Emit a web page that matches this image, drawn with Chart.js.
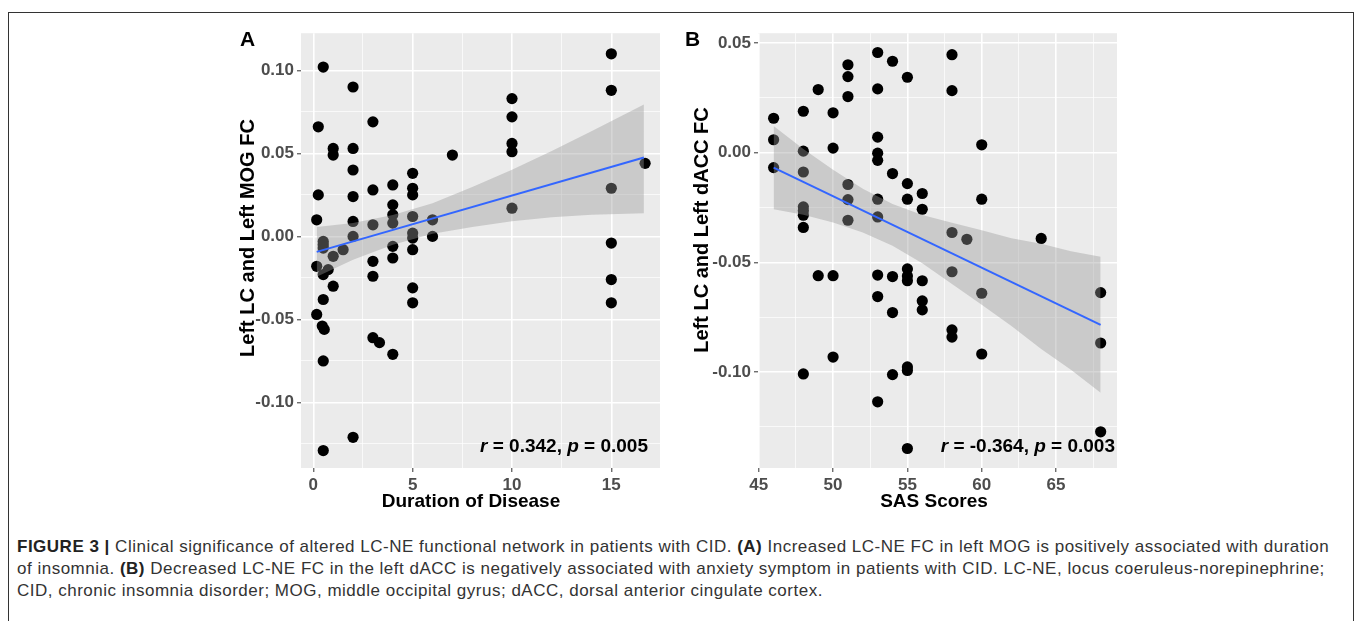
<!DOCTYPE html>
<html>
<head>
<meta charset="utf-8">
<title>Figure 3</title>
<script src="https://cdn.jsdelivr.net/npm/chart.js@4.4.1/dist/chart.umd.min.js"></script>
<style>
  html, body { margin: 0; padding: 0; background: #fff; }
  body { width: 1357px; height: 621px; position: relative; overflow: hidden; font-family: "Liberation Sans", Arial, sans-serif; }
  #frame { position: absolute; left: 8px; top: 12px; width: 1346px; height: 640px; border: 1.5px solid #333; box-sizing: border-box; }
  canvas { position: absolute; }
  #chartA { left: 230px; top: 20px; }
  #chartB { left: 680px; top: 20px; }
  .panel { position: absolute; font: bold 21px "Liberation Sans", Arial, sans-serif; color: #000; }
  .cap { position: absolute; left: 17px; white-space: nowrap; color: #333; font-size: 17px; letter-spacing: 0.5px; font-family: "Liberation Sans", Arial, sans-serif; }
  .cap b { color: #222; }
</style>
</head>
<body>
<div id="frame"></div>
<canvas id="chartA" width="440" height="500"></canvas>
<canvas id="chartB" width="450" height="500"></canvas>
<div class="panel" style="left:240px; top:27px;">A</div>
<div class="panel" style="left:685px; top:27px;">B</div>
<div class="cap" style="top:537px;"><b>FIGURE 3 |</b> Clinical significance of altered LC-NE functional network in patients with CID. <b>(A)</b> Increased LC-NE FC in left MOG is positively associated with duration</div>
<div class="cap" style="top:559px;">of insomnia. <b>(B)</b> Decreased LC-NE FC in the left dACC is negatively associated with anxiety symptom in patients with CID. LC-NE, locus coeruleus-norepinephrine;</div>
<div class="cap" style="top:581px;">CID, chronic insomnia disorder; MOG, middle occipital gyrus; dACC, dorsal anterior cingulate cortex.</div>

<script>
// Panel A: duration of disease vs left LC - left MOG FC
const durationYears = [0.5, 2, 0.25, 3, 1, 1, 2, 2, 0.25, 2, 3, 4, 5, 5, 5, 7, 10, 10, 10, 10, 10,
  15, 15, 15, 15, 16.7, 15, 15, 0.17, 2, 2, 3, 4, 4, 4, 5, 5, 5, 5, 6, 6, 0.5, 0.5, 0.5, 1.5, 1,
  3, 4, 4, 0.17, 0.75, 0.5, 1, 3, 5, 5, 0.5, 0.17, 0.45, 0.55, 0.5, 3, 3.33, 4, 2, 0.5];
const mogFC = [0.102, 0.090, 0.066, 0.069, 0.053, 0.049, 0.053, 0.040, 0.025, 0.024, 0.028, 0.031,
  0.038, 0.029, 0.025, 0.049, 0.083, 0.072, 0.056, 0.051, 0.017, 0.110, 0.088, 0.029, -0.004, 0.044,
  -0.026, -0.040, 0.010, 0.009, 0.000, 0.007, 0.019, 0.013, 0.008, 0.012, 0.002, -0.001, -0.008,
  0.010, 0.000, -0.003, -0.005, -0.007, -0.008, -0.012, -0.015, -0.013, -0.006, -0.018, -0.020,
  -0.023, -0.030, -0.024, -0.031, -0.040, -0.038, -0.047, -0.054, -0.056, -0.075, -0.061, -0.064,
  -0.071, -0.121, -0.129];
const fitAX = [0.17, 16.64];
const fitAY = [-0.0093, 0.0475];
const bandAX = [0.17, 2, 4, 6, 8, 10, 12, 14, 16.64];
const bandAUpper = [0.0057, 0.0080, 0.0129, 0.0200, 0.0297, 0.0401, 0.0515, 0.0634, 0.0795];
const bandALower = [-0.0243, -0.0140, -0.0051, 0.0016, 0.0057, 0.0091, 0.0115, 0.0130, 0.0140];

// Panel B: SAS scores vs left LC - left dACC FC
const sasScores = [46, 46, 46, 48, 48, 48, 48, 48, 48, 48, 48, 49, 49, 50, 50, 50, 50,
  51, 51, 51, 51, 51, 51, 53, 53, 53, 53, 53, 53, 53, 53, 53, 53, 54, 54, 54, 54, 54,
  55, 55, 55, 55, 55, 55, 55, 55, 55, 56, 56, 56, 56, 56, 58, 58, 58, 58, 58, 58, 59,
  60, 60, 60, 60, 64, 68, 68, 68];
const daccFC = [0.0157, 0.0059, -0.0068, 0.0189, 0.0007, -0.0088, -0.0247, -0.0265, -0.0285, -0.0341, -0.1009,
  0.0288, -0.0561, 0.0182, 0.0021, -0.0561, -0.0932,
  0.0401, 0.0347, 0.0256, -0.0145, -0.0214, -0.0308,
  0.0457, 0.0291, 0.0071, -0.0002, -0.0035, -0.0212, -0.0293, -0.0558, -0.0656, -0.1136,
  0.0417, -0.0095, -0.0565, -0.0729, -0.1012,
  0.0344, -0.0141, -0.0212, -0.0530, -0.0562, -0.0584, -0.0977, -0.0993, -0.1349,
  -0.0186, -0.0258, -0.0584, -0.0676, -0.0717,
  0.0447, 0.0283, -0.0364, -0.0543, -0.0808, -0.0841, -0.0395,
  0.0036, -0.0212, -0.0641, -0.0918, -0.0391, -0.0638, -0.0868, -0.1273];
const fitBX = [46, 68];
const fitBY = [-0.0068, -0.0785];
const bandBX = [46, 48, 50, 52, 54, 56, 58, 60, 62, 64, 66, 68];
const bandBUpper = [0.0122, 0.0017, -0.0078, -0.0164, -0.0234, -0.0284, -0.0319, -0.0354, -0.0390, -0.0415, -0.0450, -0.0475];
const bandBLower = [-0.0258, -0.0283, -0.0318, -0.0364, -0.0424, -0.0504, -0.0599, -0.0694, -0.0790, -0.0895, -0.0990, -0.1095];

const statA = ['0.342', '0.005'];
const statB = ['-0.364', '0.003'];

const FONT = '"Liberation Sans", Arial, sans-serif';
Chart.defaults.font.family = FONT;

function pts(xs, ys) { return xs.map((x, i) => ({ x: x, y: ys[i] })); }
function isMultiple(v, step) { return Math.abs(v / step - Math.round(v / step)) < 1e-6; }

const panelBg = {
  id: 'panelBg',
  beforeDraw(chart) {
    const a = chart.chartArea, ctx = chart.ctx;
    ctx.save();
    ctx.fillStyle = '#EBEBEB';
    ctx.fillRect(a.left, a.top, a.right - a.left, a.bottom - a.top);
    ctx.restore();
  }
};

// r / p annotation and axis titles (ggplot places these slightly off the axis centre)
function textPlugin(vals, t) {
  return {
    id: 'figText',
    afterDatasetsDraw(chart) {
      const ctx = chart.ctx, a = chart.chartArea;
      const parts = [['r', true], [' = ' + vals[0] + ', ', false], ['p', true], [' = ' + vals[1], false]];
      ctx.save();
      ctx.fillStyle = '#000';
      ctx.textBaseline = 'alphabetic';
      const fnt = it => (it ? 'italic ' : '') + 'bold 19px ' + FONT;
      const widths = parts.map(p => { ctx.font = fnt(p[1]); return ctx.measureText(p[0]).width; });
      let x = a.right - t.statRight - widths.reduce((s, w) => s + w, 0);
      const y = a.bottom - 16;
      parts.forEach((p, i) => { ctx.font = fnt(p[1]); ctx.fillText(p[0], x, y); x += widths[i]; });

      ctx.font = 'bold 19px ' + FONT;
      ctx.textAlign = 'center';
      ctx.textBaseline = 'middle';
      ctx.fillText(t.xTitle, t.xTitleX, t.xTitleY);
      ctx.translate(t.yTitleX, t.yTitleY);
      ctx.rotate(-Math.PI / 2);
      ctx.font = 'bold 20px ' + FONT;
      ctx.fillText(t.yTitle, 0, 0);
      ctx.restore();
    }
  };
}

function axis(opts) {
  return {
    type: 'linear',
    min: opts.min, max: opts.max,
    afterFit(s) { if (opts.width) s.width = opts.width; if (opts.height) s.height = opts.height; },
    border: { display: false },
    grid: {
      color: '#FFFFFF',
      lineWidth: c => (c.tick && isMultiple(c.tick.value, opts.major)) ? 1.6 : 0.7,
      tickColor: c => (c.tick && isMultiple(c.tick.value, opts.major)) ? '#333333' : 'rgba(0,0,0,0)',
      tickLength: 4,
      tickWidth: 1
    },
    ticks: {
      stepSize: opts.major / 2,
      includeBounds: false,
      autoSkip: false,
      maxRotation: 0,
      padding: 3,
      color: '#4D4D4D',
      font: { size: 17, weight: 'bold' },
      callback: v => isMultiple(v, opts.major) ? (opts.digits ? v.toFixed(opts.digits) : String(Math.round(v))) : ''
    },
    title: { display: false }
  };
}

function makeChart(id, xs, ys, fx, fy, bx, bu, bl, vals, texts, scales, pad) {
  return new Chart(document.getElementById(id), {
    type: 'scatter',
    data: {
      datasets: [
        { data: pts(xs, ys), backgroundColor: '#000', borderWidth: 0, pointRadius: 5.6, order: 3 },
        { data: pts(bx, bu), showLine: true, pointRadius: 0, borderWidth: 0, borderColor: 'rgba(0,0,0,0)',
          backgroundColor: 'rgba(153,153,153,0.4)', fill: '+1', order: 2 },
        { data: pts(bx, bl), showLine: true, pointRadius: 0, borderWidth: 0, borderColor: 'rgba(0,0,0,0)',
          fill: false, order: 2 },
        { data: pts(fx, fy), showLine: true, pointRadius: 0, borderWidth: 2, borderColor: '#3366FF', fill: false, order: 1 }
      ]
    },
    options: {
      responsive: false,
      animation: false,
      layout: { padding: pad },
      plugins: { legend: { display: false }, tooltip: { enabled: false }, filler: { drawTime: 'beforeDatasetDraw' } },
      scales: scales
    },
    plugins: [panelBg, textPlugin(vals, texts)]
  });
}

makeChart('chartA', durationYears, mogFC, fitAX, fitAY, bandAX, bandAUpper, bandALower, statA,
  { statRight: 12, xTitle: 'Duration of Disease', xTitleX: 241, xTitleY: 482,
    yTitle: 'Left LC and Left MOG FC', yTitleX: 18, yTitleY: 218 },
  {
    x: axis({ min: -0.62, max: 17.45, major: 5, height: 52 }),
    y: axis({ min: -0.1395, max: 0.1224, major: 0.05, digits: 2, width: 71 })
  }, { left: 0, right: 10, top: 12, bottom: 0 });

makeChart('chartB', sasScores, daccFC, fitBX, fitBY, bandBX, bandBUpper, bandBLower, statB,
  { statRight: 2, xTitle: 'SAS Scores', xTitleX: 254, xTitleY: 482,
    yTitle: 'Left LC and Left dACC FC', yTitleX: 22, yTitleY: 210 },
  {
    x: axis({ min: 44.95, max: 69.1, major: 5, height: 52 }),
    y: axis({ min: -0.1438, max: 0.0545, major: 0.05, digits: 2, width: 78 })
  }, { left: 0, right: 13, top: 12, bottom: 0 });
</script>
</body>
</html>
